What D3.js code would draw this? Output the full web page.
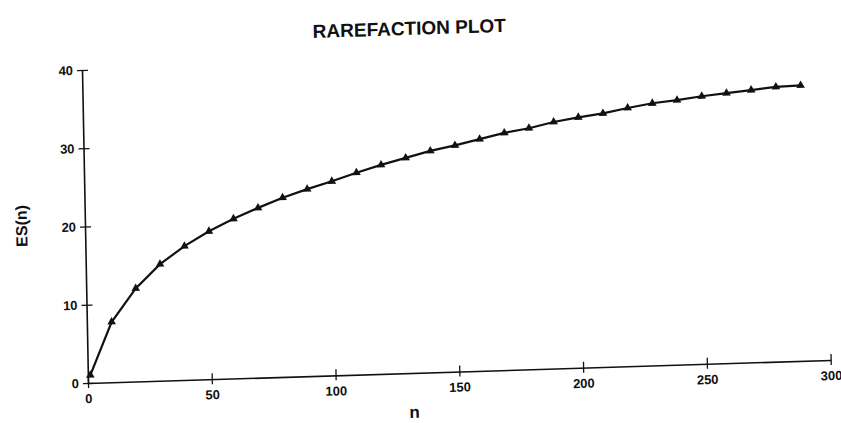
<!DOCTYPE html>
<html>
<head>
<meta charset="utf-8">
<script src="https://cdn.jsdelivr.net/npm/d3@7"></script>
<style>
  body { margin: 0; background: #fff; }
  svg { display: block; }
</style>
</head>
<body>
<div id="chart"></div>
<script>
// Data
const sampleSize = [1, 10, 20, 30, 40, 50, 60, 70, 80, 90, 100, 110, 120, 130, 140,
  150, 160, 170, 180, 190, 200, 210, 220, 230, 240, 250, 260, 270, 280, 290];
const expectedSpecies = [1, 7.7, 11.9, 14.9, 17.1, 18.9, 20.4, 21.7, 22.9, 23.9, 24.8,
  25.8, 26.7, 27.5, 28.3, 28.9, 29.6, 30.3, 30.8, 31.5, 32.0, 32.4, 33.0, 33.5, 33.8,
  34.2, 34.5, 34.8, 35.1, 35.2];
const xTicks = [0, 50, 100, 150, 200, 250, 300];
const yTicks = [0, 10, 20, 30, 40];

const points = sampleSize.map((n, i) => ({ n: n, es: expectedSpecies[i] }));

// Dimensions
const fullWidth = 841, fullHeight = 423;
const width = 743, height = 313;
const font = "'Liberation Sans', Arial, Helvetica, sans-serif";

const svg = d3.select('#chart')
  .append('svg')
  .attr('width', fullWidth)
  .attr('height', fullHeight);

svg.append('rect')
  .attr('width', fullWidth)
  .attr('height', fullHeight)
  .attr('fill', '#fff');

// The scanned page is slightly skewed, so the whole plot is tilted a bit
const g = svg.append('g')
  .attr('transform', 'matrix(0.99952,-0.03095,0.01917,0.99982,82,70.06)');

// Scales
const xScale = d3.scaleLinear().domain([0, 300]).range([0, width]);
const yScale = d3.scaleLinear().domain([0, 40]).range([height, 0]);

// X axis
const xAxis = g.append('g')
  .attr('transform', `translate(0,${height})`)
  .call(d3.axisBottom(xScale).tickValues(xTicks).tickSize(5).tickSizeOuter(0).tickPadding(6));

// Y axis
const yAxis = g.append('g')
  .call(d3.axisLeft(yScale).tickValues(yTicks).tickSize(5).tickSizeOuter(0).tickPadding(4));

[xAxis, yAxis].forEach(ax => {
  ax.attr('font-family', font)
    .attr('font-size', 13)
    .attr('font-weight', 'bold');
  ax.select('.domain').attr('stroke', '#111').attr('stroke-width', 1.6);
  ax.selectAll('.tick line').attr('stroke', '#111').attr('stroke-width', 1.3);
  ax.selectAll('.tick text').attr('fill', '#111');
});

// ticks cross the axis lines
xAxis.selectAll('.tick line').attr('y1', -6).attr('y2', 5);
yAxis.selectAll('.tick line').attr('x1', 6).attr('x2', -5);

// Line
const line = d3.line()
  .x(d => xScale(d.n))
  .y(d => yScale(d.es));

g.append('path')
  .datum(points)
  .attr('d', line)
  .attr('fill', 'none')
  .attr('stroke', '#111')
  .attr('stroke-width', 2.2);

// Triangle markers
g.selectAll('.marker')
  .data(points)
  .enter()
  .append('path')
  .attr('class', 'marker')
  .attr('transform', d => `translate(${xScale(d.n)},${yScale(d.es)})`)
  .attr('d', d3.symbol().type(d3.symbolTriangle).size(32))
  .attr('fill', '#111');

// Title
g.append('text')
  .attr('x', 328)
  .attr('y', -25)
  .attr('text-anchor', 'middle')
  .attr('font-family', font)
  .attr('font-size', 19)
  .attr('font-weight', 'bold')
  .attr('fill', '#111')
  .text('RAREFACTION PLOT');

// Axis titles
g.append('text')
  .attr('transform', 'translate(-58,154) rotate(-90)')
  .attr('text-anchor', 'middle')
  .attr('font-family', font)
  .attr('font-size', 16)
  .attr('font-weight', 'bold')
  .attr('fill', '#111')
  .text('ES(n)');

g.append('text')
  .attr('x', 326)
  .attr('y', 358)
  .attr('text-anchor', 'middle')
  .attr('font-family', font)
  .attr('font-size', 17)
  .attr('font-weight', 'bold')
  .attr('fill', '#111')
  .text('n');
</script>
</body>
</html>
